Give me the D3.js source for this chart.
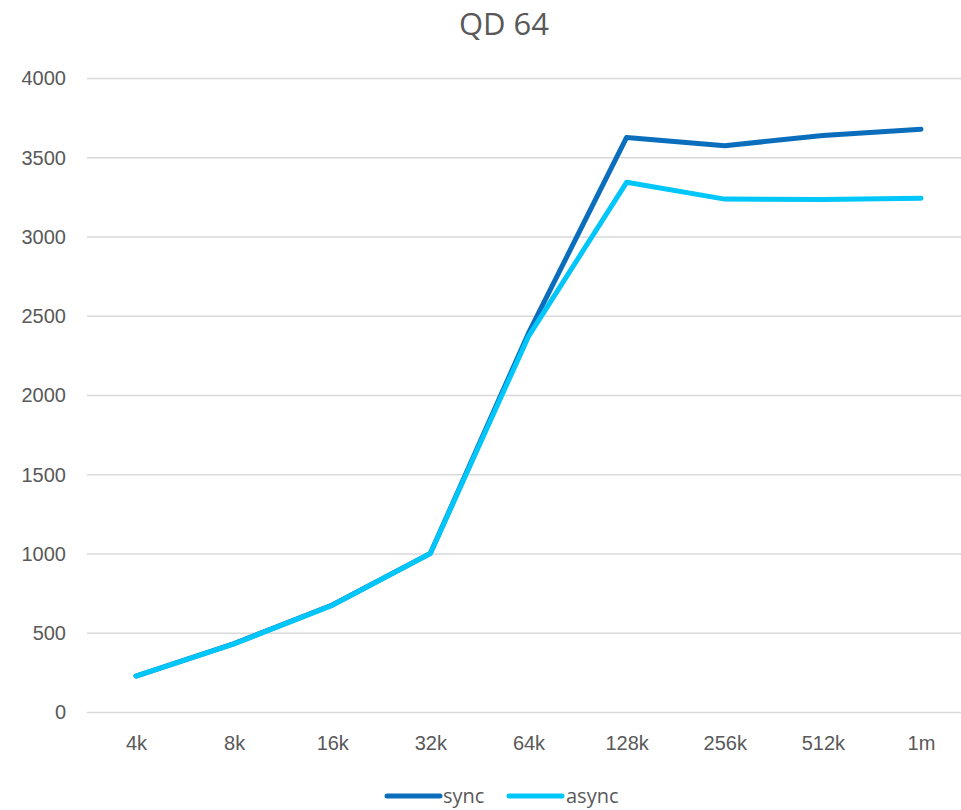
<!DOCTYPE html>
<html>
<head>
<meta charset="utf-8">
<script src="https://cdn.jsdelivr.net/npm/d3@7"></script>
<style>
  html, body { margin: 0; padding: 0; background: #fff; }
  svg { display: block; font-family: "Open Sans", "Liberation Sans", sans-serif; }
</style>
</head>
<body>
<svg id="chart" width="961" height="810"></svg>
<script>
// Block sizes tested
const categories = ["4k", "8k", "16k", "32k", "64k", "128k", "256k", "512k", "1m"];
// Throughput per block size
const syncValues  = [227, 432, 675, 1001, 2390, 3625, 3573, 3637, 3677];
const asyncValues = [227, 430, 673, 1000, 2370, 3342, 3236, 3233, 3242];
const yTicks = [0, 500, 1000, 1500, 2000, 2500, 3000, 3500, 4000];

const series = [
  { name: "sync",  values: syncValues,  color: "#0A6EBD" },
  { name: "async", values: asyncValues, color: "#00C6FA" }
];

const svg = d3.select("#chart");
const plot = { left: 87, right: 970, top: 78, bottom: 712 };

const x = d3.scalePoint().domain(categories).range([136, 921]);
const y = d3.scaleLinear().domain([0, 4000]).range([plot.bottom, plot.top]);

// Title
svg.append("text")
  .attr("x", 504).attr("y", 35)
  .attr("text-anchor", "middle")
  .attr("fill", "#595959")
  .style("font-size", "31px")
  .text("QD 64");

// Horizontal gridlines with value labels
const yAxis = d3.axisLeft(y)
  .tickValues(yTicks)
  .tickFormat(d3.format("d"))
  .tickSize(-(plot.right - plot.left));
const gy = svg.append("g").attr("transform", `translate(${plot.left},0)`).call(yAxis);
gy.select(".domain").remove();
gy.selectAll(".tick line").attr("stroke", "#d9d9d9").attr("stroke-width", 1.3);
gy.selectAll(".tick text")
  .attr("fill", "#595959")
  .style("font-size", "20px")
  .attr("x", -21)
  .attr("dy", "0.34em");

// Category labels
const xAxis = d3.axisBottom(x).tickSize(0).tickPadding(24);
const gx = svg.append("g").attr("transform", `translate(0,${plot.bottom})`).call(xAxis);
gx.select(".domain").remove();
gx.selectAll(".tick text").attr("fill", "#595959").style("font-size", "20px");

// Lines
const line = d3.line()
  .x((d, i) => x(categories[i]))
  .y(d => y(d));

series.forEach(s => {
  svg.append("path")
    .datum(s.values)
    .attr("d", line)
    .attr("fill", "none")
    .attr("stroke", s.color)
    .attr("stroke-width", 5)
    .attr("stroke-linejoin", "round")
    .attr("stroke-linecap", "round");
});

// Legend
const legend = svg.append("g");
const legendItems = [
  { s: series[0], x0: 387, x1: 440, tx: 443 },
  { s: series[1], x0: 509, x1: 562, tx: 566 }
];
legendItems.forEach(it => {
  legend.append("line")
    .attr("x1", it.x0).attr("x2", it.x1)
    .attr("y1", 796).attr("y2", 796)
    .attr("stroke", it.s.color)
    .attr("stroke-width", 5)
    .attr("stroke-linecap", "round");
  legend.append("text")
    .attr("x", it.tx).attr("y", 803)
    .attr("fill", "#595959")
    .style("font-size", "20px")
    .text(it.s.name);
});
</script>
</body>
</html>
